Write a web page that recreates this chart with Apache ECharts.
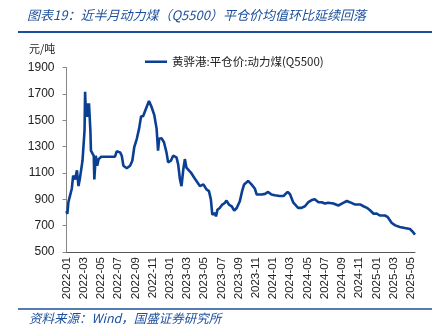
<!DOCTYPE html>
<html><head><meta charset="utf-8">
<script src="https://cdn.jsdelivr.net/npm/echarts@6/dist/echarts.min.js"></script>
<style>html,body{margin:0;padding:0;background:#fff}#c{width:443px;height:335px}</style>
</head><body><div id="c"></div>
<script>
const seriesName = '黄骅港:平仓价:动力煤(Q5500)';
const yTicks = [500, 700, 900, 1100, 1300, 1500, 1700, 1900];
const dates = ['2022-01-01','2022-01-04','2022-01-08','2022-01-14','2022-01-20','2022-01-25','2022-02-01','2022-02-07','2022-02-12','2022-02-17','2022-02-25','2022-03-04','2022-03-06','2022-03-09','2022-03-13','2022-03-17','2022-03-20','2022-03-25','2022-03-27','2022-04-02','2022-04-06','2022-04-08','2022-04-13','2022-04-18','2022-04-23','2022-05-02','2022-05-16','2022-06-01','2022-06-20','2022-06-26','2022-07-08','2022-07-14','2022-07-20','2022-08-01','2022-08-13','2022-08-21','2022-08-28','2022-09-06','2022-09-14','2022-09-21','2022-09-28','2022-10-04','2022-10-19','2022-10-28','2022-11-07','2022-11-15','2022-11-20','2022-11-24','2022-12-02','2022-12-11','2022-12-20','2022-12-26','2023-01-05','2023-01-13','2023-01-25','2023-01-31','2023-02-06','2023-02-11','2023-02-17','2023-02-22','2023-02-27','2023-03-05','2023-03-15','2023-03-27','2023-04-08','2023-04-16','2023-04-28','2023-05-09','2023-05-18','2023-05-25','2023-05-30','2023-06-02','2023-06-08','2023-06-12','2023-06-17','2023-06-25','2023-07-04','2023-07-13','2023-07-19','2023-07-28','2023-08-07','2023-08-16','2023-08-25','2023-09-05','2023-09-13','2023-09-20','2023-09-25','2023-10-04','2023-10-16','2023-10-28','2023-11-04','2023-11-09','2023-11-21','2023-12-03','2023-12-14','2023-12-26','2024-01-07','2024-01-25','2024-02-07','2024-02-21','2024-02-29','2024-03-12','2024-03-29','2024-04-10','2024-04-22','2024-05-04','2024-05-16','2024-05-27','2024-06-09','2024-06-20','2024-07-02','2024-07-13','2024-08-01','2024-08-19','2024-09-07','2024-09-18','2024-09-28','2024-10-04','2024-10-16','2024-10-22','2024-11-04','2024-11-16','2024-11-28','2024-12-10','2024-12-22','2025-01-02','2025-01-13','2025-02-01','2025-02-09','2025-02-23','2025-03-07','2025-03-23','2025-04-10','2025-04-28','2025-05-07','2025-05-16'];
const prices = [810,790,880,930,980,1080,1050,1120,1000,1064,1192,1423,1715,1526,1628,1526,1628,1423,1270,1256,1230,1050,1230,1154,1205,1223,1223,1223,1223,1264,1256,1230,1154,1136,1154,1192,1295,1359,1436,1530,1530,1564,1646,1602,1538,1436,1269,1359,1364,1333,1256,1180,1193,1231,1218,1167,1052,1000,1128,1205,1141,1154,1103,1064,1026,1000,1013,975,962,898,783,783,795,770,821,834,860,872,890,860,847,814,834,885,962,1013,1000,1039,1013,982,936,941,936,941,956,936,930,925,925,956,938,874,835,835,847,878,894,900,878,878,868,874,868,853,874,887,878,878,861,872,861,847,835,815,790,792,777,777,767,720,702,690,682,674,656,632];
const xStart = '2022-01';
const xEnd = '2025-05-16';

function monthIndex(s) {
  const p = s.split('-').map(Number);
  const y = p[0], m = p[1], d = p[2] || 1;
  const dim = new Date(y, m, 0).getDate();
  return (y - 2022) * 12 + (m - 1) + (d - 1) / dim;
}
function monthLabel(v) {
  if (Math.abs(v - Math.round(v)) > 1e-6) return '';
  const r = Math.round(v);
  const y = 2022 + Math.floor(r / 12), m = r % 12 + 1;
  return y + '-' + (m < 10 ? '0' + m : m);
}
const data = dates.map((d, i) => [monthIndex(d), prices[i]]);

const blue = '#1c4f9c';
const chart = echarts.init(document.getElementById('c'), null, {renderer: 'canvas'});
chart.setOption({
  animation: false,
  backgroundColor: '#fff',
  grid: {left: 66.5, right: 28, top: 67.5, bottom: 83, containLabel: false},
  legend: {
    data: [seriesName], left: 140, top: 51, itemWidth: 22, itemHeight: 12, itemGap: 2,
    icon: 'path://M0,5 L22,5 L22,7.5 L0,7.5 Z',
    textStyle: {fontFamily: '"Noto Sans CJK SC", "Liberation Sans", sans-serif', fontSize: 11.5, color: '#222', padding: [0, 0, 0, 0]}
  },
  xAxis: {
    type: 'value', min: monthIndex(xStart), max: monthIndex(xEnd), interval: 2,
    splitLine: {show: false},
    axisLine: {lineStyle: {color: '#555', width: 1}},
    axisTick: {show: false},
    axisLabel: {rotate: 90, margin: 5, fontSize: 11.5, color: '#222', fontFamily: '"Liberation Sans", Arial, sans-serif', formatter: monthLabel, showMaxLabel: false}
  },
  yAxis: {
    type: 'value', min: yTicks[0], max: yTicks[yTicks.length - 1], interval: yTicks[1] - yTicks[0],
    splitLine: {show: false},
    axisLine: {show: true, lineStyle: {color: '#888', width: 1}},
    axisTick: {show: true, length: 4, lineStyle: {color: '#888'}},
    axisLabel: {margin: 12, fontSize: 12, color: '#222', fontFamily: '"Liberation Sans", Arial, sans-serif', formatter: v => String(v)}
  },
  series: [{
    name: seriesName, type: 'line', data: data, showSymbol: false, symbol: 'none',
    lineStyle: {color: '#0b3f94', width: 2.6}, itemStyle: {color: '#0b3f94'}
  }],
  graphic: [
    {type: 'text', left: 27, top: 9, style: {text: '图表19：近半月动力煤（Q5500）平仓价均值环比延续回落', fill: blue, fontSize: 13, fontStyle: 'italic', fontFamily: '"Noto Sans CJK SC", sans-serif'}},
    {type: 'line', shape: {x1: 18, y1: 32, x2: 432, y2: 32}, style: {stroke: blue, lineWidth: 2}},
    {type: 'text', left: 29, top: 43, style: {text: '元/吨', fill: '#222', fontSize: 11, fontFamily: '"Noto Sans CJK SC", sans-serif'}},
    {type: 'line', shape: {x1: 18, y1: 309, x2: 432, y2: 309}, style: {stroke: blue, lineWidth: 1.5}},
    {type: 'text', left: 29, top: 312, style: {text: '资料来源：Wind，国盛证券研究所', fill: blue, fontSize: 12.5, fontStyle: 'italic', fontFamily: '"Noto Sans CJK SC", sans-serif'}}
  ]
});
</script></body></html>
